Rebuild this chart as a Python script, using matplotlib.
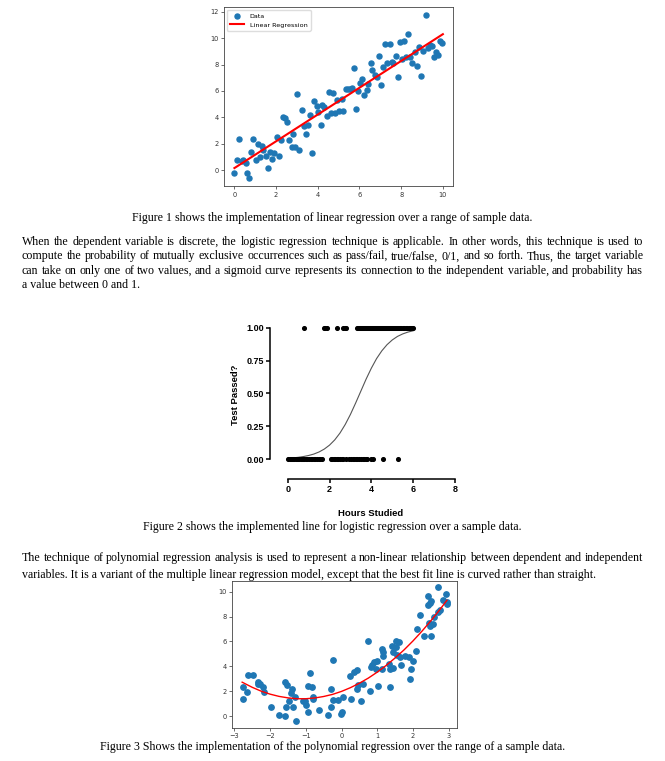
import matplotlib
matplotlib.use('Agg')
import matplotlib.pyplot as plt

W, H = 665, 761

# --- figure 1: linear regression ---
lin_x = [0.0, 0.11, 0.21, 0.35, 0.43, 0.54, 0.62, 0.72, 0.8, 0.91,
         1.02, 1.12, 1.22, 1.31, 1.39, 1.52, 1.6, 1.71, 1.82, 1.92,
         2.03, 2.13, 2.22, 2.32, 2.42, 2.51, 2.62, 2.74, 2.83, 2.93,
         3.02, 3.12, 3.22, 3.33, 3.42, 3.52, 3.63, 3.73, 3.82, 3.94,
         4.03, 4.13, 4.22, 4.32, 4.43, 4.53, 4.62, 4.74, 4.83, 4.93,
         5.04, 5.14, 5.23, 5.33, 5.44, 5.54, 5.63, 5.73, 5.84, 5.94,
         6.03, 6.13, 6.24, 6.34, 6.43, 6.53, 6.62, 6.74, 6.83, 6.93,
         7.04, 7.14, 7.23, 7.33, 7.44, 7.54, 7.63, 7.73, 7.84, 7.94,
         8.03, 8.14, 8.24, 8.34, 8.43, 8.54, 8.64, 8.74, 8.85, 8.94,
         9.04, 9.18, 9.3, 9.39, 9.49, 9.58, 9.68, 9.79, 9.87, 9.98]
lin_y = [-0.2, 0.76, 2.32, 0.68, 0.76, 0.5, -0.25, -0.63, 1.34, 2.32,
         0.76, 2.0, 1.0, 1.82, 1.5, 1.06, 0.13, 1.34, 0.86, 1.26,
         2.47, 1.06, 2.27, 3.99, 3.91, 3.66, 2.27, 1.77, 2.7, 1.77,
         5.76, 1.52, 4.55, 3.36, 2.73, 3.43, 4.17, 1.31, 5.25, 4.85,
         4.37, 3.38, 4.95, 4.8, 4.07, 5.88, 4.34, 5.86, 4.34, 5.3,
         4.47, 5.4, 4.47, 6.11, 6.11, 6.16, 6.24, 7.75, 4.65, 6.01,
         6.62, 6.92, 5.68, 6.06, 6.52, 8.13, 7.58, 7.17, 7.02, 8.64,
         6.41, 7.83, 9.55, 8.08, 9.52, 8.21, 8.13, 8.64, 7.02, 9.7,
         8.44, 9.75, 8.56, 10.35, 8.59, 8.08, 8.94, 7.88, 9.34, 7.12,
         9.04, 11.74, 9.22, 9.47, 9.39, 8.59, 8.97, 8.71, 9.8, 9.6]
reg_x = [0, 10]
reg_y = [0.15, 10.3]

# --- figure 2: logistic regression ---
pass_x = [0.78, 1.75, 1.8, 1.86, 2.37, 2.66, 2.72, 2.77,
          3.33, 3.38, 3.43, 3.48, 3.52, 3.57, 3.62, 3.66, 3.71, 3.75,
          3.8, 3.85, 3.9, 3.94, 3.99, 4.04, 4.08, 4.13, 4.18, 4.23,
          4.27, 4.32, 4.37, 4.41, 4.46, 4.51, 4.55, 4.6, 4.65, 4.7,
          4.74, 4.79, 4.84, 4.88, 4.93, 4.98, 5.02, 5.07, 5.12, 5.17,
          5.21, 5.26, 5.31, 5.36, 5.42, 5.5, 5.58, 5.65, 5.72, 5.8,
          5.86, 5.9, 5.95, 5.98]
fail_x = [0.0, 0.1, 0.15, 0.2, 0.27, 0.32, 0.38, 0.45, 0.5, 0.55,
          0.62, 0.68, 0.75, 0.8, 0.88, 0.94, 1.04, 1.1, 1.18, 1.25,
          1.32, 1.4, 1.48, 1.55, 1.63, 2.06, 2.12, 2.2, 2.27, 2.35,
          2.42, 2.5, 2.58, 2.66, 2.79, 2.95, 3.02, 3.1, 3.17, 3.25,
          3.33, 3.41, 3.5, 3.58, 3.65, 3.73, 3.8, 4.0, 4.1, 4.57, 5.29]
sig_x = [0, 0.25, 0.5, 0.75, 1.0, 1.25, 1.5, 1.75, 2.0, 2.25, 2.5, 2.75, 3.0,
         3.25, 3.5, 3.75, 4.0, 4.25, 4.5, 4.75, 5.0, 5.25, 5.5, 5.75, 6.0]
sig_y = [0.006, 0.009, 0.013, 0.019, 0.027, 0.038, 0.054, 0.076, 0.106, 0.146,
         0.198, 0.263, 0.340, 0.427, 0.518, 0.609, 0.692, 0.765, 0.824, 0.871,
         0.907, 0.934, 0.953, 0.967, 0.977]

# --- figure 3: polynomial regression ---
poly_x = [-2.77, -2.77, -2.65, -2.61, -2.47, -2.35, -2.33, -2.28, -2.19, -2.16,
          -1.96, -1.74, -1.59, -1.57, -1.56, -1.52, -1.46, -1.41, -1.38, -1.35,
          -1.31, -1.27, -1.09, -1.02, -0.98, -0.95, -0.93, -0.88, -0.82, -0.81,
          -0.79, -0.64, -0.37, -0.30, -0.30, -0.25, -0.23, -0.09, -0.01, 0.01,
          0.05, 0.24, 0.27, 0.35, 0.42, 0.43, 0.47, 0.54, 0.61, 0.74,
          0.80, 0.82, 0.84, 0.90, 0.96, 1.00, 1.02, 1.12, 1.14, 1.15,
          1.17, 1.33, 1.36, 1.37, 1.41, 1.43, 1.45, 1.52, 1.52, 1.56,
          1.61, 1.65, 1.67, 1.79, 1.88, 1.92, 1.95, 2.00, 2.08, 2.12,
          2.19, 2.30, 2.41, 2.43, 2.46, 2.48, 2.49, 2.51, 2.51, 2.57,
          2.59, 2.70, 2.71, 2.76, 2.85, 2.92, 2.94, 2.96]
poly_y = [2.33, 1.37, 1.90, 3.27, 3.27, 2.76, 2.55, 2.57, 2.31, 1.93,
          0.72, 0.08, 2.71, 0.03, 0.75, 2.52, 1.23, 1.82, 2.14, 0.72,
          1.50, -0.43, 1.21, 1.21, 0.88, 2.44, 0.35, 3.49, 2.36, 1.50,
          1.37, 0.48, 0.08, 2.14, 0.72, 4.50, 1.29, 1.29, 0.16, 0.32,
          1.50, 3.24, 1.37, 3.57, 3.70, 2.17, 2.47, 1.23, 2.57, 6.06,
          2.01, 3.91, 4.07, 4.32, 3.78, 4.42, 2.41, 3.75, 5.36, 5.17,
          4.80, 4.16, 3.75, 2.36, 5.63, 3.83, 5.17, 6.03, 5.52, 4.91,
          5.95, 4.77, 4.13, 4.83, 4.77, 3.00, 3.78, 4.42, 5.25, 7.00,
          8.10, 6.43, 9.68, 8.95, 7.45, 7.27, 9.06, 9.25, 6.43, 7.40,
          7.99, 10.35, 8.34, 8.50, 9.33, 9.79, 9.20, 9.04]
fit_x = [-2.78, -2.5, -2.25, -2.0, -1.75, -1.5, -1.25, -1.0, -0.75, -0.5, -0.25, 0.0,
         0.25, 0.5, 0.75, 1.0, 1.25, 1.5, 1.75, 2.0, 2.25, 2.5, 2.75, 2.95]
fit_y = [2.72, 2.31, 2.00, 1.76, 1.58, 1.46, 1.39, 1.39, 1.45, 1.57, 1.74, 1.98,
         2.28, 2.64, 3.05, 3.53, 4.07, 4.67, 5.32, 6.04, 6.82, 7.66, 8.55, 9.31]

caption1 = "Figure 1 shows the implementation of linear regression over a range of sample data."
para1 = ["When the dependent variable is discrete, the logistic regression technique is applicable. In other words, this technique is used to",
         "compute the probability of mutually exclusive occurrences such as pass/fail, true/false, 0/1, and so forth. Thus, the target variable",
         "can take on only one of two values, and a sigmoid curve represents its connection to the independent variable, and probability has",
         "a value between 0 and 1."]
caption2 = "Figure 2 shows the implemented line for logistic regression over a sample data."
para2 = ["The technique of polynomial regression analysis is used to represent a non-linear relationship between dependent and independent",
         "variables. It is a variant of the multiple linear regression model, except that the best fit line is curved rather than straight."]
caption3 = "Figure 3 Shows the implementation of the polynomial regression over the range of a sample data."

fig = plt.figure(figsize=(W / 100, H / 100), dpi=100)
serif = 'Liberation Serif'
body = 8.6


def box(l, t, r, b):
    return [l / W, 1 - b / H, (r - l) / W, (b - t) / H]


def small_axes(ax):
    for s in ax.spines.values():
        s.set_linewidth(0.6)
        s.set_color('#444444')
    ax.tick_params(length=2.5, width=0.5, pad=1.5, labelsize=4.8,
                   colors='#333333')


# chart 1
ax1 = fig.add_axes(box(224, 7, 453.3, 186))
ax1.scatter(lin_x, lin_y, s=13, color='#1f77b4', label='Data', zorder=2)
ax1.plot(reg_x, reg_y, color='red', lw=1.5, label='Linear Regression', zorder=3)
ax1.set_xlim(-0.5, 10.5)
ax1.set_ylim(-1.21, 12.36)
ax1.set_xticks([0, 2, 4, 6, 8, 10])
ax1.set_yticks([0, 2, 4, 6, 8, 10, 12])
small_axes(ax1)
ax1.legend(loc='upper left', fontsize=4.6, borderpad=0.5, handlelength=2.2,
           markerscale=1.0, framealpha=1, edgecolor='#dddddd')

# chart 2
ax2 = fig.add_axes(box(270, 320, 460, 479))
ax2.scatter(pass_x, [1] * len(pass_x), s=7, color='black', clip_on=False, zorder=3)
ax2.scatter(fail_x, [0] * len(fail_x), s=7, color='black', clip_on=False, zorder=3)
ax2.plot(sig_x, sig_y, color='#555555', lw=0.8)
ax2.set_xlim(-0.847, 8.24)
ax2.set_ylim(-0.152, 1.059)
for s in ['top', 'right']:
    ax2.spines[s].set_visible(False)
ax2.spines['left'].set_bounds(0, 1)
ax2.spines['bottom'].set_bounds(0, 8)
for s in ['left', 'bottom']:
    ax2.spines[s].set_linewidth(1.1)
ax2.set_yticks([0, 0.25, 0.5, 0.75, 1.0])
ax2.set_yticklabels(['0.00', '0.25', '0.50', '0.75', '1.00'],
                    fontweight='bold', family='Liberation Sans', fontsize=6.5)
ax2.set_xticks([0, 2, 4, 6, 8])
ax2.set_xticklabels(['0', '2', '4', '6', '8'], fontweight='bold',
                    family='Liberation Sans', fontsize=6.5)
ax2.tick_params(length=3, width=1.1, pad=1.5)
fig.text(371 / W, 1 - 513 / H, 'Hours Studied', ha='center', va='center',
         fontweight='bold', family='Liberation Sans', fontsize=6.8)
fig.text(235 / W, 1 - 395 / H, 'Test Passed?', ha='center', va='center',
         rotation=90, fontweight='bold', family='Liberation Sans', fontsize=6.8)

# chart 3
ax3 = fig.add_axes(box(232.3, 581, 457.3, 727.7))
ax3.scatter(poly_x, poly_y, s=15, color='#1f77b4', zorder=2)
ax3.plot(fit_x, fit_y, color='red', lw=1.0, zorder=3)
ax3.set_xlim(-3.056, 3.24)
ax3.set_ylim(-0.94, 10.86)
ax3.set_xticks([-3, -2, -1, 0, 1, 2, 3])
ax3.set_yticks([0, 2, 4, 6, 8, 10])
small_axes(ax3)

# text of the page (y values are baselines in pixels)
renderer = fig.canvas.get_renderer()


def justified(y, text, x0=22, x1=643):
    words = text.split()
    objs = [fig.text(0, 1 - y / H, w, family=serif, fontsize=body, va='baseline')
            for w in words]
    widths = [o.get_window_extent(renderer).width for o in objs]
    gap = (x1 - x0 - sum(widths)) / (len(words) - 1)
    x = x0
    for o, w in zip(objs, widths):
        o.set_x(x / W)
        x += w + gap


def plain(y, text, x0=22):
    fig.text(x0 / W, 1 - y / H, text, family=serif, fontsize=body, va='baseline')


def centered(y, text):
    fig.text(0.5, 1 - y / H, text, family=serif, fontsize=body,
             ha='center', va='baseline')


centered(221, caption1)
for i, line in enumerate(para1[:3]):
    justified(245 + i * 14.3, line)
plain(245 + 3 * 14.3, para1[3])
centered(530, caption2)
justified(561, para2[0])
plain(578, para2[1])
centered(750, caption3)

fig.savefig('out.png', dpi=100)
